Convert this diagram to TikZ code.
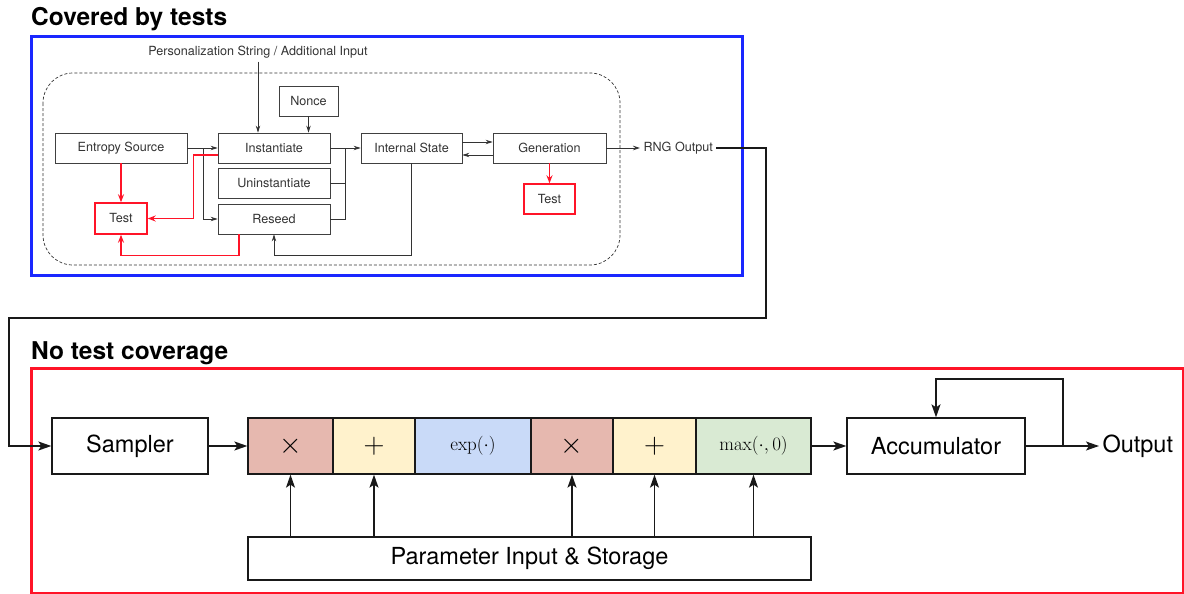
\documentclass[tikz,border=0pt]{standalone}
\usepackage{fix-cm}
\usepackage{amsmath}
\usepackage[no-math]{fontspec}
\setmainfont{TeX Gyre Heros}
\usetikzlibrary{arrows.meta,positioning}
\definecolor{frameBlue}{RGB}{26, 40, 255}
\definecolor{testRed}{RGB}{255, 20, 40}
\definecolor{mulRed}{RGB}{230, 184, 175}
\definecolor{addYellow}{RGB}{255, 242, 204}
\definecolor{expBlue}{RGB}{201, 218, 248}
\definecolor{maxGreen}{RGB}{217, 234, 211}
\newcommand{\smallfont}{\fontsize{12.6}{14}\selectfont}
\newcommand{\bigfont}{\fontsize{23.5}{26}\selectfont}
\newcommand{\titlefont}{\fontsize{24.5}{28}\selectfont\bfseries}
\newcommand{\opfont}{\fontsize{19}{22}\selectfont}

\tikzset{
    smallbox/.style={draw=black!75, line width=0.8pt, minimum height=30, inner sep=0, font=\smallfont, text=black!80},
    testbox/.style={smallbox, draw=testRed, line width=1.4pt},
    bigbox/.style={draw=black!90, line width=1.3pt, minimum height=56, inner sep=0, font=\bigfont},
    cell/.style={bigbox, font=\fontsize{29}{32}\selectfont},
    thinflow/.style={draw=black!80, line width=0.8pt, -{Stealth[length=7pt, width=4.5pt]}},
    redflow/.style={draw=testRed, line width=1.4pt, -{Stealth[length=8pt, width=6pt]}},
    bigflow/.style={draw=black!90, line width=1.3pt, -{Stealth[length=13pt, width=9pt, inset=3pt]}},
}

\begin{document}
\begin{tikzpicture}[x=1pt, y=-1pt]
    \useasboundingbox (0,0) rectangle (1184,594);

    % frames
    \node[font=\titlefont, anchor=base west, inner sep=0] (coveredTitle) at (31,26) {Covered by tests};
    \draw[frameBlue, line width=3pt] (31,37) rectangle (742,275);
    \draw[black!80, line width=0.7pt, dash pattern=on 3pt off 2pt, rounded corners=30] (43,73) rectangle (620,265);
    \node[font=\titlefont, anchor=base west, inner sep=0] (noneTitle) at (31,359) {No test coverage};
    \draw[testRed, line width=3pt] (31,368) rectangle (1183,593);

    % upper part
    \node[font=\smallfont, text=black!80] (pers) at (258,52) {Personalization String / Additional Input};
    \node[smallbox, minimum width=59] (nonce) at (308.5,101) {Nonce};
    \node[smallbox, minimum width=132] (entropy) at (121,148) {Entropy Source};
    \node[smallbox, minimum width=112] (inst) at (274,148) {Instantiate};
    \node[smallbox, minimum width=112] (uninst) at (274,183) {Uninstantiate};
    \node[smallbox, minimum width=112] (reseed) at (274,219) {Reseed};
    \node[smallbox, minimum width=101] (state) at (411.5,148) {Internal State};
    \node[smallbox, minimum width=113] (gen) at (549.5,148) {Generation};
    \node[testbox, minimum width=52, minimum height=31] (testA) at (121,218.5) {Test};
    \node[testbox, minimum width=51] (testB) at (549.5,199) {Test};
    \node[font=\smallfont, text=black!80, anchor=west] (rng) at (640,148) {RNG Output};

    \draw[thinflow] (pers.south) -- (pers.south |- inst.north);
    \draw[thinflow] (nonce.south) -- (nonce.south |- inst.north);
    \draw[thinflow] (entropy.east) -- (inst.west);
    \draw[thinflow] (entropy.east) -- ++(16,0) |- (reseed.west);
    \draw[thinflow] (inst.east) -- (state.west);
    \draw[draw=black!80, line width=0.8pt] (inst.east) -- ++(15,0) |- (reseed.east);
    \draw[draw=black!80, line width=0.8pt] (uninst.east) -- ++(15,0);
    \draw[thinflow] (state.south) -- ++(0,92) -| (reseed.south);
    \draw[thinflow] ([yshift=6]state.east) -- ([yshift=6]gen.west);
    \draw[thinflow] ([yshift=-7]gen.west) -- ([yshift=-7]state.east);
    \draw[thinflow] (gen.east) -- (rng.west);

    \draw[redflow] (entropy.south) -- (testA.north);
    \draw[redflow] ([yshift=-7]inst.west) -- ++(-24,0) |- (testA.east);
    \draw[redflow] ([xshift=-35]reseed.south) -- ++(0,21) -| (testA.south);
    \draw[redflow] (gen.south) -- (testB.north);

    % lower part
    \node[bigbox, minimum width=156] (sampler) at (130,446) {Sampler};
    \node[cell, fill=mulRed, minimum width=85] (mulA) at (290.5,446) {$\times$};
    \node[cell, fill=addYellow, minimum width=82] (addA) at (374,446) {$+$};
    \node[cell, fill=expBlue, minimum width=116] (expC) at (473,446) {\opfont$\exp(\cdot)$};
    \node[cell, fill=mulRed, minimum width=82] (mulB) at (572,446) {$\times$};
    \node[cell, fill=addYellow, minimum width=83] (addB) at (654.5,446) {$+$};
    \node[cell, fill=maxGreen, minimum width=115] (maxC) at (753.5,446) {\opfont$\max(\cdot,0)$};
    \node[bigbox, minimum width=563, minimum height=43] (param) at (529.5,558.5) {Parameter Input \& Storage};
    \node[bigbox, minimum width=178] (acc) at (936,446) {Accumulator};
    \node[font=\bigfont, anchor=west] (out) at (1099,446) {Output};
    \coordinate (drop) at (766,318);
    \coordinate (back) at (9,318);
    \coordinate (fork) at (1063,446);

    \draw[bigflow] (rng.east) -| (drop) -- (back) |- (sampler.west);
    \draw[bigflow] (sampler.east) -- (mulA.west);
    \draw[bigflow] (maxC.east) -- (acc.west);
    \draw[draw=black!90, line width=1.3pt] (acc.east) -- (fork);
    \draw[bigflow] (fork) -- (out.west);
    \draw[bigflow] (fork) -- ++(0,-67) -| (acc.north);
    \foreach \c in {mulA,addA,mulB,addB,maxC}
        \draw[bigflow] (param.north -| \c) -- (\c.south);

\end{tikzpicture}
\end{document}
